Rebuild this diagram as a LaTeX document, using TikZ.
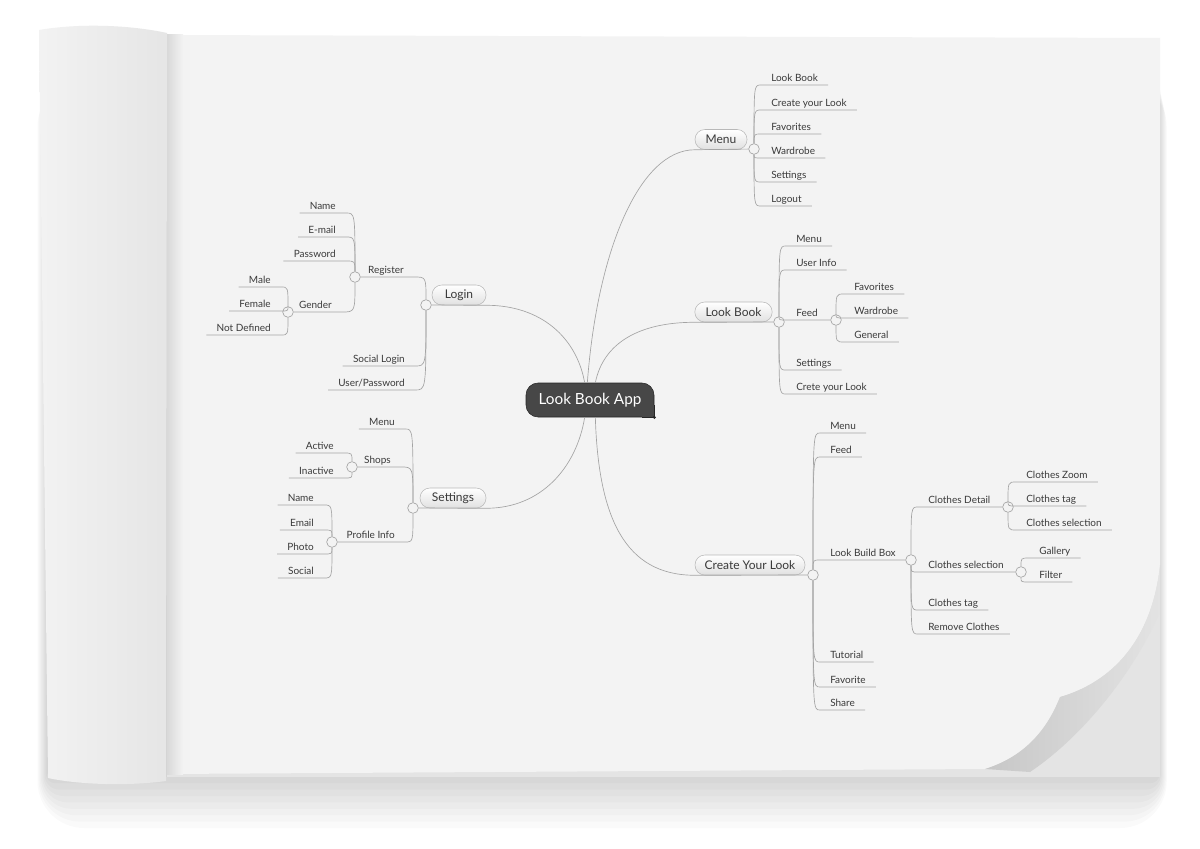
\documentclass[tikz,border=0pt]{standalone}
\usepackage{fontspec}
\setmainfont{Lato}
\usetikzlibrary{calc}

\definecolor{paper}{HTML}{F3F3F3}
\definecolor{paperback}{HTML}{E4E4E4}
\definecolor{inkgray}{HTML}{3A3A3A}
\definecolor{linegray}{HTML}{A4A4A4}
\definecolor{appdark}{HTML}{474747}

\begin{document}
\begin{tikzpicture}[x=0.75pt,y=-0.75pt,
  leaf/.style={inner xsep=7.5pt,inner ysep=1pt,text depth=1.5pt,text height=5.5pt,font=\fontsize{7.5}{9}\selectfont,text=inkgray},
  leafr/.style={leaf,anchor=south west},
  leafl/.style={leaf,anchor=south east},
  knob/.style={circle,draw=linegray,fill=paper,minimum size=8pt,inner sep=0pt,line width=0.5pt},
  topic/.style={rectangle,draw=black!28,rounded corners=7.4pt,top color=white,bottom color=black!12,minimum height=15pt,inner sep=0pt,font=\fontsize{9}{11}\selectfont,text=inkgray},
  root/.style={rectangle,draw=black!85,fill=appdark,rounded corners=9pt,minimum width=96pt,minimum height=25.5pt,font=\fontsize{11.5}{14}\selectfont,text=white},
  link/.style={draw=linegray,line width=0.5pt}
  ]

\useasboundingbox (0,0) rectangle (1200,849);
\fill[white] (0,0) rectangle (1200,849);

% paper and shadows
\foreach \s in {3,7,...,35}
  \fill[black,opacity=0.018,rounded corners=\s pt] (48-\s*0.3,80) rectangle (1158+\s*0.25,772+\s*1.6);
\fill[paperback] (167,38) rectangle (1160,777);
\fill[paper] (167,35) -- (1160,38) -- (1160,565) .. controls (1152,640) and (1112,682) .. (1060,697)
  .. controls (1045,735) and (1020,758) .. (985,769) -- (167,774) -- cycle;
\shade[left color=black!22,right color=black!11] (1060,697) .. controls (1045,735) and (1020,758) .. (985,769)
  -- (1030,772) .. controls (1085,735) and (1135,670) .. (1160,612) -- (1160,565)
  .. controls (1152,640) and (1112,682) .. (1060,697) -- cycle;
\shade[left color=black!15,right color=paper] (167,35) rectangle (183,774);
\shade[left color=black!5,middle color=black!3,right color=black!10] (39,30) .. controls (80,23) and (130,25) .. (167,33)
  -- (166,781) .. controls (130,786) and (80,785) .. (48,778) -- cycle;

% central topic
\node[root] (app) at (590,400) {Look Book App};
\fill[appdark] ([xshift=-9pt]app.south east) rectangle ([yshift=9pt]app.south east);
\draw[black!85,line width=0.4pt] ([xshift=-9pt]app.south east) -- (app.south east) -- ([yshift=9pt]app.south east);
\fill[black!85] (app.south east) circle (1.3pt);

\node[topic,minimum width=39pt] (menu) at (721,139.5) {Menu};
\node[topic,minimum width=58pt] (lookbook) at (733.5,312) {Look Book};
\node[topic,minimum width=82.5pt] (create) at (750,565) {Create Your Look};
\node[topic,minimum width=40.5pt] (login) at (459,295) {Login};
\node[topic,minimum width=49.5pt] (settings) at (453,498) {Settings};

\node[knob] (mk) at (754,149) {};
\node[knob] (lk) at (779,322) {};
\node[knob] (fk) at (836,320) {};
\node[knob] (ck) at (813,575) {};
\node[knob] (bk) at (911,560) {};
\node[knob] (dk) at (1008,507) {};
\node[knob] (sk) at (1021,572) {};
\node[knob] (gk) at (426,305) {};
\node[knob] (rk) at (355,277) {};
\node[knob] (ek) at (288,312) {};
\node[knob] (tk) at (413,508) {};
\node[knob] (hk) at (352,467) {};
\node[knob] (pk) at (332,542) {};

% menu
\node[leafr] (m1) at (761,85) {Look Book};
\node[leafr] (m2) at (761,110) {Create your Look};
\node[leafr] (m3) at (761,134) {Favorites};
\node[leafr] (m4) at (761,158) {Wardrobe};
\node[leafr] (m5) at (761,182) {Settings};
\node[leafr] (m6) at (761,206) {Logout};

% look book
\node[leafr] (l1) at (786,246) {Menu};
\node[leafr] (l2) at (786,270) {User Info};
\node[leafr] (l3) at (786,320) {Feed};
\node[leafr] (l31) at (844,294) {Favorites};
\node[leafr] (l32) at (844,318) {Wardrobe};
\node[leafr] (l33) at (844,342) {General};
\node[leafr] (l4) at (786,370) {Settings};
\node[leafr] (l5) at (786,394) {Crete your Look};

% create your look
\node[leafr] (c1) at (820,433) {Menu};
\node[leafr] (c2) at (820,457) {Feed};
\node[leafr] (c3) at (820,560) {Look Build Box};
\node[leafr] (b1) at (918,507) {Clothes Detail};
\node[leafr] (d1) at (1016,482) {Clothes Zoom};
\node[leafr] (d2) at (1016,506) {Clothes tag};
\node[leafr] (d3) at (1016,530) {Clothes selection};
\node[leafr] (b2) at (918,572) {Clothes selection};
\node[leafr] (s1) at (1029,558) {Gallery};
\node[leafr] (s2) at (1029,582) {Filter};
\node[leafr] (b3) at (918,610) {Clothes tag};
\node[leafr] (b4) at (918,634) {Remove Clothes};
\node[leafr] (c4) at (820,662) {Tutorial};
\node[leafr] (c5) at (820,687) {Favorite};
\node[leafr] (c6) at (820,710) {Share};

% login
\node[leafl] (g1) at (414,277) {Register};
\node[leafl] (r1) at (346,213) {Name};
\node[leafl] (r2) at (346,237) {E-mail};
\node[leafl] (r3) at (346,261) {Password};
\node[leafl] (r4) at (342,312) {Gender};
\node[leafl] (e1) at (281,287) {Male};
\node[leafl] (e2) at (281,311) {Female};
\node[leafl] (e3) at (281,335) {Not Defined};
\node[leafl] (g2) at (415,366) {Social Login};
\node[leafl] (g3) at (415,390) {User/Password};

% settings
\node[leafl] (t1) at (405,429) {Menu};
\node[leafl] (t2) at (401,467) {Shops};
\node[leafl] (h1) at (344,453) {Active};
\node[leafl] (h2) at (344,478) {Inactive};
\node[leafl] (t3) at (405,542) {Profile Info};
\node[leafl] (p1) at (324,505) {Name};
\node[leafl] (p2) at (324,530) {Email};
\node[leafl] (p3) at (324,554) {Photo};
\node[leafl] (p4) at (324,578) {Social};

% main branches
\draw[link] ([xshift=-2pt]app.north) .. controls +(10,-133) and +(-55,0) .. (menu.south west) -- (mk);
\draw[link] ([xshift=4pt]app.north) .. controls +(8,-40) and +(-55,0) .. (lookbook.south west) -- (lk);
\draw[link] ([xshift=4pt]app.south) .. controls +(3,100) and +(-70,0) .. (create.south west) -- (ck);
\draw[link] ([xshift=-4pt]app.north) .. controls +(-8,-45) and +(55,0) .. (login.south east) -- (gk);
\draw[link] ([xshift=-4pt]app.south) .. controls +(-8,50) and +(55,0) .. (settings.south east) -- (tk);

\draw[link] (mk) .. controls (mk |- m1.south west) .. (m1.south west) -- (m1.south east);
\draw[link] (mk) .. controls (mk |- m2.south west) .. (m2.south west) -- (m2.south east);
\draw[link] (mk) .. controls (mk |- m3.south west) .. (m3.south west) -- (m3.south east);
\draw[link] (mk) .. controls (mk |- m4.south west) .. (m4.south west) -- (m4.south east);
\draw[link] (mk) .. controls (mk |- m5.south west) .. (m5.south west) -- (m5.south east);
\draw[link] (mk) .. controls (mk |- m6.south west) .. (m6.south west) -- (m6.south east);

\draw[link] (lk) .. controls (lk |- l1.south west) .. (l1.south west) -- (l1.south east);
\draw[link] (lk) .. controls (lk |- l2.south west) .. (l2.south west) -- (l2.south east);
\draw[link] (lk) .. controls (lk |- l3.south west) .. (l3.south west) -- (fk);
\draw[link] (lk) .. controls (lk |- l4.south west) .. (l4.south west) -- (l4.south east);
\draw[link] (lk) .. controls (lk |- l5.south west) .. (l5.south west) -- (l5.south east);
\draw[link] (fk) .. controls (fk |- l31.south west) .. (l31.south west) -- (l31.south east);
\draw[link] (fk) .. controls (fk |- l32.south west) .. (l32.south west) -- (l32.south east);
\draw[link] (fk) .. controls (fk |- l33.south west) .. (l33.south west) -- (l33.south east);

\draw[link] (ck) .. controls (ck |- c1.south west) .. (c1.south west) -- (c1.south east);
\draw[link] (ck) .. controls (ck |- c2.south west) .. (c2.south west) -- (c2.south east);
\draw[link] (ck) .. controls (ck |- c3.south west) .. (c3.south west) -- (bk);
\draw[link] (ck) .. controls (ck |- c4.south west) .. (c4.south west) -- (c4.south east);
\draw[link] (ck) .. controls (ck |- c5.south west) .. (c5.south west) -- (c5.south east);
\draw[link] (ck) .. controls (ck |- c6.south west) .. (c6.south west) -- (c6.south east);
\draw[link] (bk) .. controls (bk |- b1.south west) .. (b1.south west) -- (dk);
\draw[link] (bk) .. controls (bk |- b2.south west) .. (b2.south west) -- (sk);
\draw[link] (bk) .. controls (bk |- b3.south west) .. (b3.south west) -- (b3.south east);
\draw[link] (bk) .. controls (bk |- b4.south west) .. (b4.south west) -- (b4.south east);
\draw[link] (dk) .. controls (dk |- d1.south west) .. (d1.south west) -- (d1.south east);
\draw[link] (dk) .. controls (dk |- d2.south west) .. (d2.south west) -- (d2.south east);
\draw[link] (dk) .. controls (dk |- d3.south west) .. (d3.south west) -- (d3.south east);
\draw[link] (sk) .. controls (sk |- s1.south west) .. (s1.south west) -- (s1.south east);
\draw[link] (sk) .. controls (sk |- s2.south west) .. (s2.south west) -- (s2.south east);

\draw[link] (gk) .. controls (gk |- g1.south east) .. (g1.south east) -- (rk);
\draw[link] (gk) .. controls (gk |- g2.south east) .. (g2.south east) -- (g2.south west);
\draw[link] (gk) .. controls (gk |- g3.south east) .. (g3.south east) -- (g3.south west);
\draw[link] (rk) .. controls (rk |- r1.south east) .. (r1.south east) -- (r1.south west);
\draw[link] (rk) .. controls (rk |- r2.south east) .. (r2.south east) -- (r2.south west);
\draw[link] (rk) .. controls (rk |- r3.south east) .. (r3.south east) -- (r3.south west);
\draw[link] (rk) .. controls (rk |- r4.south east) .. (r4.south east) -- (ek);
\draw[link] (ek) .. controls (ek |- e1.south east) .. (e1.south east) -- (e1.south west);
\draw[link] (ek) .. controls (ek |- e2.south east) .. (e2.south east) -- (e2.south west);
\draw[link] (ek) .. controls (ek |- e3.south east) .. (e3.south east) -- (e3.south west);

\draw[link] (tk) .. controls (tk |- t1.south east) .. (t1.south east) -- (t1.south west);
\draw[link] (tk) .. controls (tk |- t2.south east) .. (t2.south east) -- (hk);
\draw[link] (tk) .. controls (tk |- t3.south east) .. (t3.south east) -- (pk);
\draw[link] (hk) .. controls (hk |- h1.south east) .. (h1.south east) -- (h1.south west);
\draw[link] (hk) .. controls (hk |- h2.south east) .. (h2.south east) -- (h2.south west);
\draw[link] (pk) .. controls (pk |- p1.south east) .. (p1.south east) -- (p1.south west);
\draw[link] (pk) .. controls (pk |- p2.south east) .. (p2.south east) -- (p2.south west);
\draw[link] (pk) .. controls (pk |- p3.south east) .. (p3.south east) -- (p3.south west);
\draw[link] (pk) .. controls (pk |- p4.south east) .. (p4.south east) -- (p4.south west);

\end{tikzpicture}
\end{document}
